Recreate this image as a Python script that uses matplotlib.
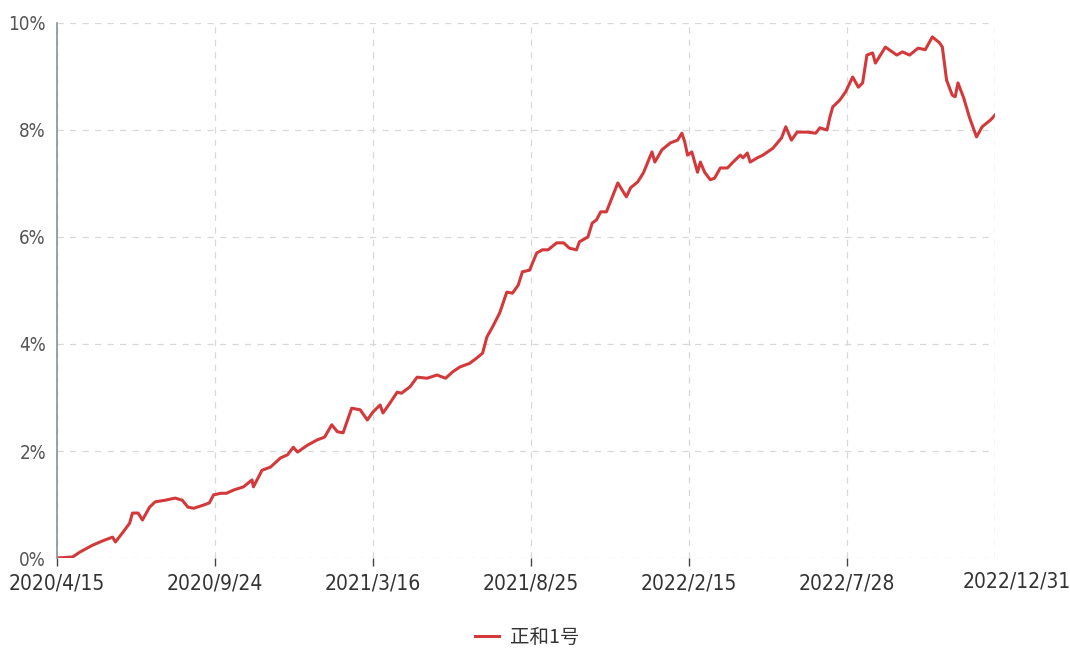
import matplotlib
matplotlib.use("Agg")
import matplotlib.pyplot as plt
import matplotlib.transforms as mtransforms

# trading-day index (0 = 2020/4/15, 659 = 2022/12/31) and cumulative return in %
day = [0, 11, 16, 25, 32, 39, 41, 46, 51, 53, 57, 60, 65, 69, 76, 83, 88, 92, 96,
       103, 107, 110, 115, 119, 124, 131, 137, 138, 144, 150, 157, 162, 166, 169,
       176, 183, 188, 193, 197, 201, 207, 213, 218, 222, 227, 229, 234, 239, 242,
       248, 253, 260, 267, 273, 278, 283, 290, 295, 299, 302, 306, 311, 316, 320,
       324, 327, 332, 337, 341, 345, 351, 356, 360, 365, 367, 373, 376, 379, 382,
       386, 394, 400, 403, 408, 412, 418, 420, 425, 431, 436, 439, 441, 443, 446,
       450, 452, 455, 459, 462, 466, 471, 475, 480, 482, 485, 487, 492, 496, 503,
       509, 512, 516, 520, 527, 533, 536, 541, 543, 545, 550, 554, 559, 563, 566,
       569, 573, 575, 582, 590, 594, 599, 605, 610, 615, 620, 622, 625, 629, 631,
       633, 637, 641, 646, 650, 656, 659]
ret = [0.00, 0.02, 0.11, 0.24, 0.32, 0.39, 0.30, 0.47, 0.65, 0.84, 0.84, 0.71, 0.95,
       1.05, 1.08, 1.12, 1.08, 0.95, 0.93, 0.99, 1.03, 1.18, 1.21, 1.21, 1.27, 1.33,
       1.46, 1.33, 1.64, 1.70, 1.87, 1.93, 2.07, 1.98, 2.11, 2.21, 2.26, 2.49, 2.36,
       2.34, 2.80, 2.77, 2.58, 2.73, 2.86, 2.71, 2.90, 3.10, 3.08, 3.20, 3.38, 3.36,
       3.42, 3.36, 3.48, 3.57, 3.64, 3.74, 3.83, 4.13, 4.32, 4.58, 4.97, 4.95, 5.10,
       5.35, 5.38, 5.70, 5.76, 5.76, 5.89, 5.89, 5.79, 5.76, 5.91, 6.00, 6.26, 6.32,
       6.47, 6.47, 7.01, 6.75, 6.92, 7.03, 7.20, 7.59, 7.40, 7.63, 7.76, 7.81, 7.94,
       7.78, 7.53, 7.59, 7.21, 7.40, 7.21, 7.07, 7.10, 7.29, 7.29, 7.40, 7.53, 7.48,
       7.57, 7.40, 7.48, 7.53, 7.66, 7.85, 8.06, 7.81, 7.96, 7.96, 7.94, 8.04, 8.00,
       8.24, 8.43, 8.56, 8.71, 8.99, 8.80, 8.88, 9.40, 9.44, 9.25, 9.55, 9.40, 9.46,
       9.40, 9.53, 9.50, 9.74, 9.63, 9.55, 8.93, 8.65, 8.62, 8.88, 8.60, 8.24, 7.87,
       8.06, 8.19, 8.28]

tick_pos = [0, 111, 222, 333, 444, 555, 659]
tick_labels = ["2020/4/15", "2020/9/24", "2021/3/16", "2021/8/25", "2022/2/15",
               "2022/7/28", "2022/12/31"]
y_ticks = [0, 2, 4, 6, 8, 10]
series_name = "正和1号"

plt.rcParams['font.family'] = ['DejaVu Sans', 'Noto Sans CJK SC']
plt.rcParams['font.stretch'] = 'condensed'

fig = plt.figure(figsize=(10.7, 6.49), dpi=100)
ax = fig.add_axes([0.0533, 0.1402, 0.8766, 0.8244])

line, = ax.plot(day, ret, color='#d3393a', lw=2.2, label=series_name)

ax.set_xlim(0, 659)
ax.set_ylim(0, 10)
ax.set_yticks(y_ticks)
ax.set_yticklabels([f"{v}%" for v in y_ticks], fontsize=13.5, color='#555555')
ax.set_xticks(tick_pos)
ax.set_xticklabels(tick_labels, fontsize=15, color='#333333')
ax.tick_params(axis='y', length=0, pad=8)
ax.tick_params(axis='x', length=6, width=1, color='#444444', pad=5)
last = ax.xaxis.get_major_ticks()[-1]
last.tick1line.set_visible(False)
last.label1.set_transform(last.label1.get_transform() +
                          mtransforms.ScaledTranslation(0.22, 0.02, fig.dpi_scale_trans))

ax.grid(True, color='#d8d8d8', ls=(0, (5, 5)), lw=0.9)
for s in ['top', 'right', 'bottom']:
    ax.spines[s].set_visible(False)
ax.spines['left'].set_color('#8890a0')
ax.spines['left'].set_linewidth(1.2)
ax.axvline(659, color='#d8d8d8', ls=(0, (5, 5)), lw=0.9)

leg = fig.legend(handles=[line], loc='center', bbox_to_anchor=(0.493, 0.0185),
                 frameon=False, handlelength=1.2, handletextpad=0.6,
                 prop={'family': ['Noto Sans CJK SC', 'DejaVu Sans'], 'size': 14})
for t in leg.get_texts():
    t.set_color('#333333')

fig.savefig("out.png", dpi=100)
